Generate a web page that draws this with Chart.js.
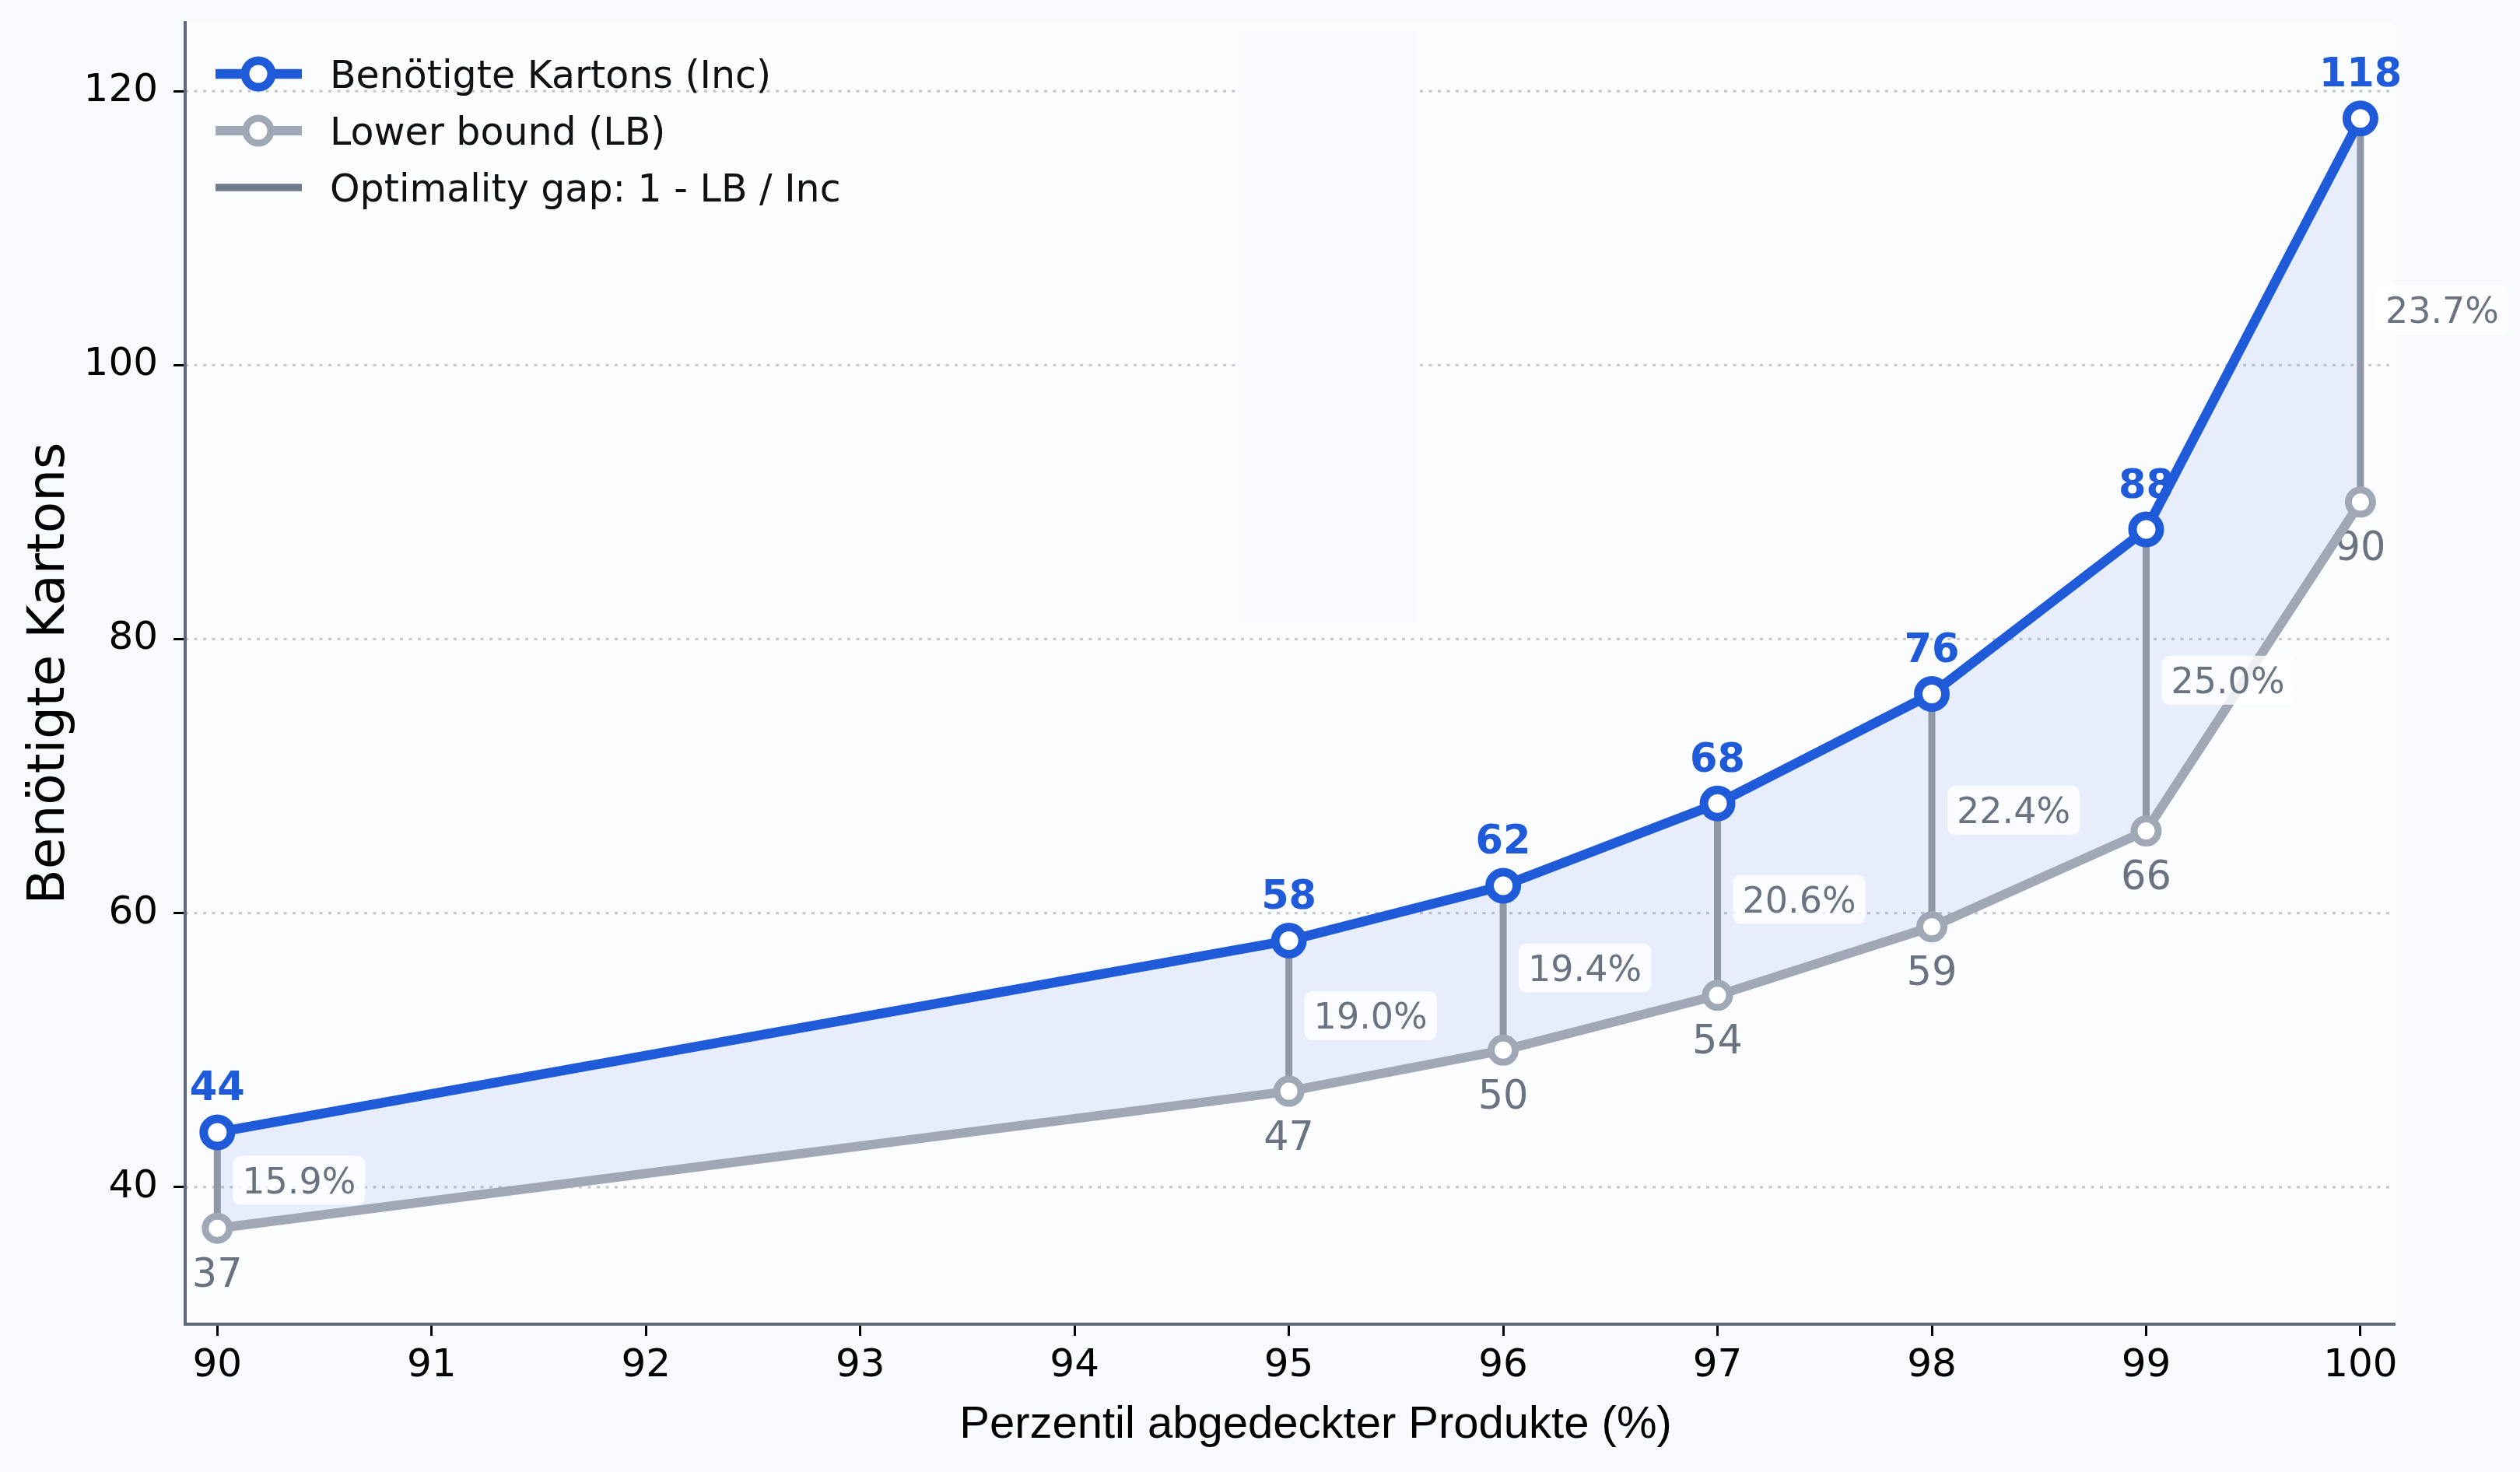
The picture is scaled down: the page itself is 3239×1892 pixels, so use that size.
<!DOCTYPE html>
<html>
<head>
<meta charset="utf-8">
<script src="https://cdn.jsdelivr.net/npm/chart.js@4.4.1/dist/chart.umd.min.js"></script>
<style>
  html, body { margin: 0; padding: 0; background: #f7f9fc; }
  canvas { display: block; }
</style>
</head>
<body>
<canvas id="kartonChart" width="3239" height="1892"></canvas>
<script>
// data
const percentiles = [90, 95, 96, 97, 98, 99, 100];
const incumbent = [44, 58, 62, 68, 76, 88, 118];
const lowerBound = [37, 47, 50, 54, 59, 66, 90];
const gapLabels = ['15.9%', '19.0%', '19.4%', '20.6%', '22.4%', '25.0%', '23.7%'];
const xTicks = [90, 91, 92, 93, 94, 95, 96, 97, 98, 99, 100];
const yTicks = [40, 60, 80, 100, 120];

const BLUE = '#1f5bd9';
const LB_GRAY = '#a0a8b5';
const GAP_GRAY = '#8f98a6';
const LABEL_GRAY = '#6b7280';
const FONT = '"DejaVu Sans", sans-serif';

const incPoints = percentiles.map((p, i) => ({ x: p, y: incumbent[i] }));
const lbPoints = percentiles.map((p, i) => ({ x: p, y: lowerBound[i] }));
// vertical gap segments, broken apart by null points
const gapPoints = percentiles.flatMap((p, i) => [
    { x: p, y: lowerBound[i] },
    { x: p, y: incumbent[i] },
    { x: p, y: null },
]);

function drawMarker(ctx, x, y, r, bw, color) {
    ctx.beginPath();
    ctx.arc(x, y, r, 0, Math.PI * 2);
    ctx.fillStyle = '#ffffff';
    ctx.fill();
    ctx.lineWidth = bw;
    ctx.strokeStyle = color;
    ctx.stroke();
}

const decorations = {
    id: 'decorations',
    beforeDraw(chart) {
        const { ctx, chartArea: a, scales: { x, y } } = chart;
        ctx.save();
        ctx.fillStyle = '#fbfcfe';
        ctx.fillRect(a.left, a.top, a.right - a.left, a.bottom - a.top);

        ctx.strokeStyle = '#c6c9ce';
        ctx.lineWidth = 3.2;
        ctx.setLineDash([4, 7.5]);
        yTicks.forEach(v => {
            const py = y.getPixelForValue(v);
            ctx.beginPath();
            ctx.moveTo(a.left, py);
            ctx.lineTo(a.right, py);
            ctx.stroke();
        });
        ctx.setLineDash([]);

        // empty panel that covers part of the grid
        const x0 = x.getPixelForValue(94.76), x1 = x.getPixelForValue(95.6);
        const y0 = y.getPixelForValue(124.35), y1 = y.getPixelForValue(81.2);
        ctx.fillStyle = '#f7f9fc';
        ctx.fillRect(x0, y0, x1 - x0, y1 - y0);
        ctx.restore();
    },
    beforeDatasetsDraw(chart) {
        const { ctx } = chart;
        const inc = chart.getDatasetMeta(0).data;
        const lb = chart.getDatasetMeta(1).data;
        ctx.save();
        ctx.textAlign = 'center';
        ctx.textBaseline = 'alphabetic';
        ctx.font = 'bold 51px ' + FONT;
        ctx.fillStyle = BLUE;
        inc.forEach((pt, i) => ctx.fillText(String(incumbent[i]), pt.x, pt.y - 41));
        ctx.font = '51px ' + FONT;
        ctx.fillStyle = LABEL_GRAY;
        lb.forEach((pt, i) => ctx.fillText(String(lowerBound[i]), pt.x, pt.y + 75));
        ctx.restore();
    },
    afterDatasetsDraw(chart) {
        const { ctx } = chart;
        const inc = chart.getDatasetMeta(0).data;
        const lb = chart.getDatasetMeta(1).data;
        ctx.save();
        ctx.font = '46px ' + FONT;
        ctx.textAlign = 'left';
        ctx.textBaseline = 'alphabetic';
        inc.forEach((pt, i) => {
            const mid = (pt.y + lb[i].y) / 2;
            const tx = pt.x + 32;
            const w = ctx.measureText(gapLabels[i]).width;
            ctx.fillStyle = 'rgba(255,255,255,0.82)';
            ctx.beginPath();
            ctx.roundRect(pt.x + 20, mid - 31.5, w + 24, 63, 10);
            ctx.fill();
            ctx.fillStyle = LABEL_GRAY;
            ctx.fillText(gapLabels[i], tx, mid + 16.5);
        });
        ctx.restore();
    },
    afterDraw(chart) {
        const { ctx, chartArea: a } = chart;
        ctx.save();
        // legend
        const rows = [95, 168, 241];
        const hx0 = 277, hx1 = 388, hm = 332;
        ctx.lineCap = 'butt';
        ctx.lineWidth = 12.5;
        ctx.strokeStyle = BLUE;
        ctx.beginPath(); ctx.moveTo(hx0, rows[0]); ctx.lineTo(hx1, rows[0]); ctx.stroke();
        drawMarker(ctx, hm, rows[0], 17, 11, BLUE);
        ctx.lineWidth = 12;
        ctx.strokeStyle = LB_GRAY;
        ctx.beginPath(); ctx.moveTo(hx0, rows[1]); ctx.lineTo(hx1, rows[1]); ctx.stroke();
        drawMarker(ctx, hm, rows[1], 16, 9, LB_GRAY);
        ctx.lineWidth = 9.5;
        ctx.strokeStyle = '#717a89';
        ctx.beginPath(); ctx.moveTo(hx0, rows[2]); ctx.lineTo(hx1, rows[2]); ctx.stroke();

        ctx.fillStyle = '#111111';
        ctx.font = '49px ' + FONT;
        ctx.textAlign = 'left';
        ctx.textBaseline = 'alphabetic';
        ['Benötigte Kartons (Inc)', 'Lower bound (LB)', 'Optimality gap: 1 - LB / Inc']
            .forEach((t, i) => ctx.fillText(t, 424, rows[i] + 17.5));

        // axis titles
        ctx.fillStyle = '#000000';
        ctx.font = '58px "Liberation Sans", Arial, sans-serif';
        ctx.textAlign = 'center';
        ctx.fillText('Perzentil abgedeckter Produkte (%)', 1691, 1848);

        ctx.translate(82, (a.top + a.bottom) / 2);
        ctx.rotate(-Math.PI / 2);
        ctx.font = '66px ' + FONT;
        ctx.fillText('Benötigte Kartons', 0, 0);
        ctx.restore();
    }
};

const ctx = document.getElementById('kartonChart').getContext('2d');

new Chart(ctx, {
    type: 'line',
    data: {
        datasets: [
            {
                label: 'Benötigte Kartons (Inc)',
                data: incPoints,
                borderColor: BLUE,
                borderWidth: 12.5,
                pointRadius: 17.5,
                pointBorderWidth: 11,
                pointBackgroundColor: '#ffffff',
                pointBorderColor: BLUE,
                fill: '+1',
                backgroundColor: 'rgba(31,91,217,0.09)',
                tension: 0,
            },
            {
                label: 'Lower bound (LB)',
                data: lbPoints,
                borderColor: LB_GRAY,
                borderWidth: 12,
                pointRadius: 15.5,
                pointBorderWidth: 9,
                pointBackgroundColor: '#ffffff',
                pointBorderColor: LB_GRAY,
                fill: false,
                tension: 0,
            },
            {
                label: 'Optimality gap: 1 - LB / Inc',
                data: gapPoints,
                borderColor: GAP_GRAY,
                borderWidth: 9,
                pointRadius: 0,
                spanGaps: false,
                fill: false,
            },
        ]
    },
    options: {
        responsive: false,
        animation: false,
        devicePixelRatio: 1,
        layout: { padding: { top: 29, right: 161, left: 0, bottom: 0 } },
        scales: {
            x: {
                type: 'linear',
                min: 89.85,
                max: 100.16,
                afterFit: s => { s.height = 190; s.paddingLeft = 0; s.paddingRight = 0; },
                afterBuildTicks: s => { s.ticks = xTicks.map(v => ({ value: v })); },
                grid: { drawOnChartArea: false, drawTicks: true, tickLength: 15, tickWidth: 3, tickColor: '#000000' },
                border: { display: true, color: '#5f6878', width: 4 },
                ticks: { color: '#000000', padding: 9, font: { family: 'DejaVu Sans', size: 50 }, maxRotation: 0 },
            },
            y: {
                type: 'linear',
                min: 30,
                max: 125,
                afterFit: s => { s.width = 238; s.paddingTop = 0; s.paddingBottom = 0; },
                afterBuildTicks: s => { s.ticks = yTicks.map(v => ({ value: v })); },
                grid: { drawOnChartArea: false, drawTicks: true, tickLength: 15, tickWidth: 3, tickColor: '#000000' },
                border: { display: true, color: '#5f6878', width: 4 },
                ticks: { color: '#000000', padding: 20, font: { family: 'DejaVu Sans', size: 50 } },
            }
        },
        plugins: {
            legend: { display: false },
            tooltip: { enabled: false },
            filler: { drawTime: 'beforeDatasetsDraw' },
        }
    },
    plugins: [decorations]
});
</script>
</body>
</html>
